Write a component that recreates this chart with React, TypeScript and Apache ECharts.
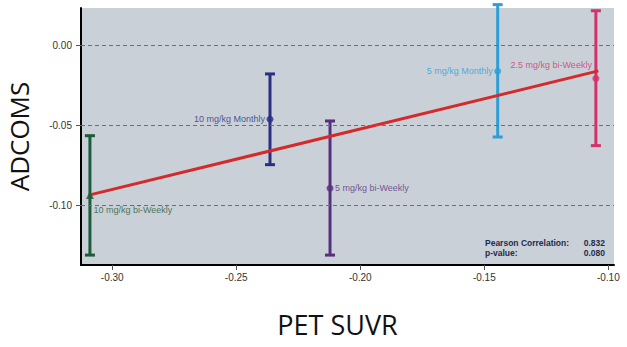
import React, { useEffect, useRef } from "react";
import * as echarts from "echarts";

// ---- data ----
const groups = ["10 mg/kg bi-Weekly", "10 mg/kg Monthly", "5 mg/kg bi-Weekly", "5 mg/kg Monthly", "2.5 mg/kg bi-Weekly"];
const petSuvr = [-0.309, -0.2364, -0.2122, -0.1446, -0.105];
const adcoms = [-0.0934, -0.0461, -0.0892, -0.0161, -0.0207];
const ciLow = [-0.131, -0.0745, -0.131, -0.0572, -0.0626];
const ciHigh = [-0.0564, -0.0178, -0.0472, 0.0255, 0.0217];
const groupColors = ["#1c5c3a", "#2b2f82", "#57307f", "#2f9ed6", "#d3306c"];
const fitX = [-0.309, -0.104];
const fitY = [-0.0934, -0.0159];
const xTicks = [-0.3, -0.25, -0.2, -0.15, -0.1];
const yTicks = [-0.1, -0.05, 0];
const statLabels = ["Pearson Correlation:", "p-value:"];
const statValues = ["0.832", "0.080"];

const labelPlacement: any[] = [
  { position: "right", offset: [-2, 15] },
  { position: "left", offset: [0, 0] },
  { position: "right", offset: [0, 0] },
  { position: "left", offset: [0, 0] },
  { position: "left", offset: [1, -14] },
];

export default function App() {
  const ref = useRef<HTMLDivElement>(null);
  useEffect(() => {
    if (!ref.current) return;
    const chart = echarts.init(ref.current, null, { renderer: "svg" });
    const errData = petSuvr.map((x, i) => [x, ciLow[i], ciHigh[i], i]);
    const pointData = petSuvr.map((x, i) => ({
      value: [x, adcoms[i]],
      symbol: i === 0 ? "triangle" : "circle",
      symbolSize: i === 0 ? 8 : 7,
      itemStyle: { color: groupColors[i] },
      label: {
        show: true,
        formatter: groups[i],
        color: groupColors[i],
        distance: 1.5,
        ...labelPlacement[i],
      },
    }));
    const option: any = {
      animation: false,
      grid: {
        left: 81,
        top: 8,
        right: 13,
        bottom: 82,
        show: true,
        borderWidth: 0,
        backgroundColor: "#c9d0d7",
        containLabel: false,
        outerBoundsMode: "none",
      },
      xAxis: {
        type: "value",
        min: -0.3126,
        max: -0.0977,
        name: "PET SUVR",
        nameLocation: "middle",
        nameGap: 46,
        nameTextStyle: { fontFamily: "Open Sans", fontSize: 27, color: "#111", padding: [0, 20, 0, 0] },
        axisLine: { show: true, onZero: false, lineStyle: { color: "#000", width: 2 } },
        axisTick: { show: true, length: 5, lineStyle: { color: "#555" }, customValues: xTicks },
        axisLabel: {
          color: "#333",
          fontSize: 10,
          fontFamily: "Liberation Sans, Arial",
          margin: 7,
          customValues: xTicks,
          formatter: (v: number) => v.toFixed(2),
        },
        splitLine: { show: false },
      },
      yAxis: {
        type: "value",
        min: -0.1372,
        max: 0.0234,
        name: "ADCOMS",
        nameLocation: "middle",
        nameGap: 49,
        nameTextStyle: { fontFamily: "Open Sans", fontSize: 26, color: "#111" },
        axisLine: { show: true, onZero: false, lineStyle: { color: "#000", width: 2 } },
        axisTick: { show: true, length: 5, lineStyle: { color: "#555" }, customValues: yTicks },
        axisLabel: {
          color: "#333",
          fontSize: 10,
          fontFamily: "Liberation Sans, Arial",
          margin: 9,
          customValues: yTicks,
          formatter: (v: number) => v.toFixed(2),
        },
        splitLine: { show: false },
      },
      series: [
        {
          type: "line",
          data: [],
          z: 1,
          markLine: {
            silent: true,
            symbol: "none",
            label: { show: false },
            lineStyle: { type: [4, 3], color: "#6e6e6e", width: 1 },
            data: yTicks.map((v) => ({ yAxis: v })),
          },
        },
        {
          type: "custom",
          z: 2,
          clip: false,
          data: errData,
          renderItem: (params: any, api: any) => {
            const x = api.value(0);
            const lo = api.coord([x, api.value(1)]);
            const hi = api.coord([x, api.value(2)]);
            const color = groupColors[api.value(3)];
            const hw = 5;
            const style = { stroke: color, lineWidth: 3 };
            return {
              type: "group",
              children: [
                { type: "line", shape: { x1: lo[0], y1: lo[1], x2: hi[0], y2: hi[1] }, style },
                { type: "line", shape: { x1: lo[0] - hw, y1: lo[1], x2: lo[0] + hw, y2: lo[1] }, style },
                { type: "line", shape: { x1: hi[0] - hw, y1: hi[1], x2: hi[0] + hw, y2: hi[1] }, style },
              ],
            };
          },
        },
        {
          type: "line",
          z: 3,
          data: fitX.map((x, i) => [x, fitY[i]]),
          symbol: "none",
          lineStyle: { color: "#d42a2a", width: 3 },
        },
        {
          type: "scatter",
          z: 4,
          data: pointData,
          label: { fontSize: 9, fontFamily: "Liberation Sans, Arial" },
        },
      ],
      graphic: [
        ...statLabels.map((t, i) => ({
          type: "text",
          x: 485,
          y: 243 + i * 10,
          style: {
            text: t,
            fill: "#1d2b4d",
            font: "bold 8.5px 'Liberation Sans', Arial",
            verticalAlign: "middle",
          },
        })),
        ...statValues.map((t, i) => ({
          type: "text",
          x: 605,
          y: 243 + i * 10,
          style: {
            text: t,
            fill: "#1d2b4d",
            font: "bold 8.5px 'Liberation Sans', Arial",
            align: "right",
            verticalAlign: "middle",
          },
        })),
      ],
    };
    chart.setOption(option);
    return () => chart.dispose();
  }, []);
  return (
    <div
      ref={ref}
      style={{ position: "absolute", left: 0, top: 0, width: 627, height: 347, background: "#fff" }}
    />
  );
}
